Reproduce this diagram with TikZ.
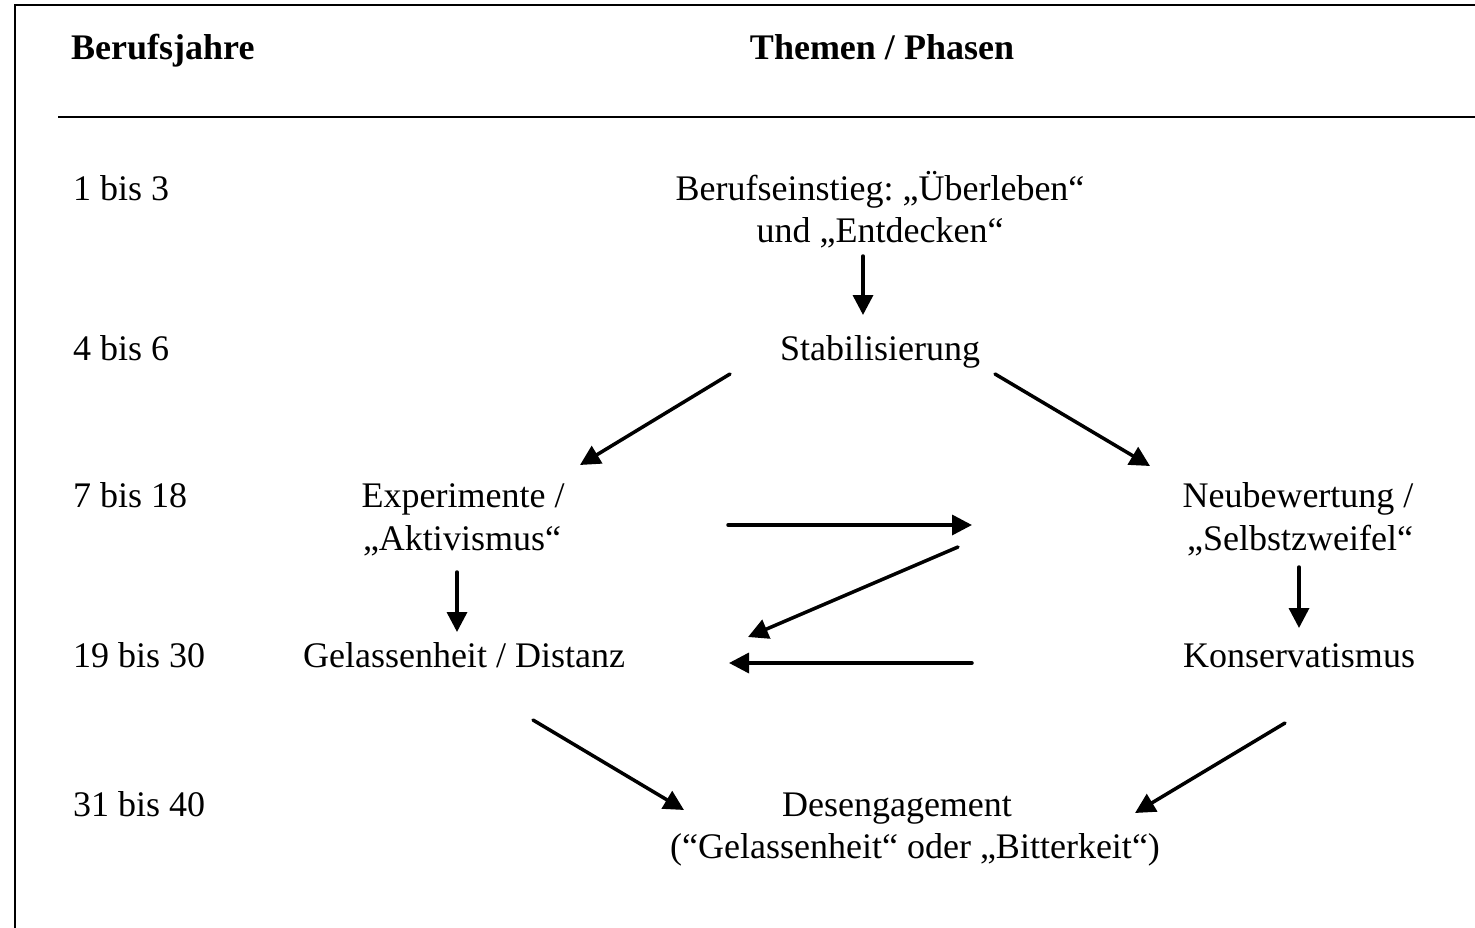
\documentclass[tikz,border=0pt]{standalone}
\usepackage{fontspec}
\setmainfont{Liberation Serif}
\usetikzlibrary{arrows.meta}
\frenchspacing
\begin{document}
\begin{tikzpicture}[x=1pt,y=-1pt,
  txt/.style={inner sep=0pt, font=\fontsize{36}{42}\selectfont, anchor=base},
  hdr/.style={txt, font=\fontsize{36}{42}\selectfont\bfseries},
  arr/.style={line width=3.5pt, line cap=round, -{Triangle[length=20pt,width=20pt]}},
  frameline/.style={line width=2pt}]
\useasboundingbox (0,0) rectangle (1475,928);
% frame and header rule
\draw[frameline] (14.5,928) -- (14.5,5.5) -- (1475,5.5);
\draw[frameline] (58,117) -- (1475,117);
% headers
\node[hdr, anchor=base west] (hyears) at (71,60) {Berufsjahre};
\node[hdr] (hthemes) at (882,60) {Themen / Phasen};
% year labels
\node[txt, anchor=base west] (y1) at (73,201) {1 bis 3};
\node[txt, anchor=base west] (y2) at (73,360) {4 bis 6};
\node[txt, anchor=base west] (y3) at (73,507) {7 bis 18};
\node[txt, anchor=base west] (y4) at (73,667) {19 bis 30};
\node[txt, anchor=base west] (y5) at (73,816) {31 bis 40};
% phases
\node[txt] (ber1) at (880,201) {Berufseinstieg: „Überleben“};
\node[txt] (ber2) at (880,243) {und „Entdecken“};
\node[txt] (stab) at (880,360) {Stabilisierung};
\node[txt] (exp1) at (463,507) {Experimente /};
\node[txt] (exp2) at (462,550) {„Aktivismus“};
\node[txt] (neu1) at (1298,507) {Neubewertung /};
\node[txt] (neu2) at (1300,550) {„Selbstzweifel“};
\node[txt] (gel) at (464,667) {Gelassenheit / Distanz};
\node[txt] (kon) at (1299,667) {Konservatismus};
\node[txt] (des1) at (897,816) {Desengagement};
\node[txt] (des2) at (915,858) {(“Gelassenheit“ oder „Bitterkeit“)};
% arrow end points
\coordinate (a1s) at (863,256);  \coordinate (a1e) at (863,315);
\coordinate (a2s) at (730,374);  \coordinate (a2e) at (580,465);
\coordinate (a3s) at (995,374);  \coordinate (a3e) at (1150,466);
\coordinate (a4s) at (728,525);  \coordinate (a4e) at (972,525);
\coordinate (a5s) at (958,547);  \coordinate (a5e) at (748,637);
\coordinate (a6s) at (972,663);  \coordinate (a6e) at (729,663);
\coordinate (a7s) at (457,572);  \coordinate (a7e) at (457,632);
\coordinate (a8s) at (1299,567); \coordinate (a8e) at (1299,628);
\coordinate (a9s) at (533,720);  \coordinate (a9e) at (684,810);
\coordinate (a10s) at (1285,723); \coordinate (a10e) at (1135,813);
\draw[arr] (a1s) -- (a1e);
\draw[arr] (a2s) -- (a2e);
\draw[arr] (a3s) -- (a3e);
\draw[arr] (a4s) -- (a4e);
\draw[arr] (a5s) -- (a5e);
\draw[arr] (a6s) -- (a6e);
\draw[arr] (a7s) -- (a7e);
\draw[arr] (a8s) -- (a8e);
\draw[arr] (a9s) -- (a9e);
\draw[arr] (a10s) -- (a10e);
\end{tikzpicture}
\end{document}
